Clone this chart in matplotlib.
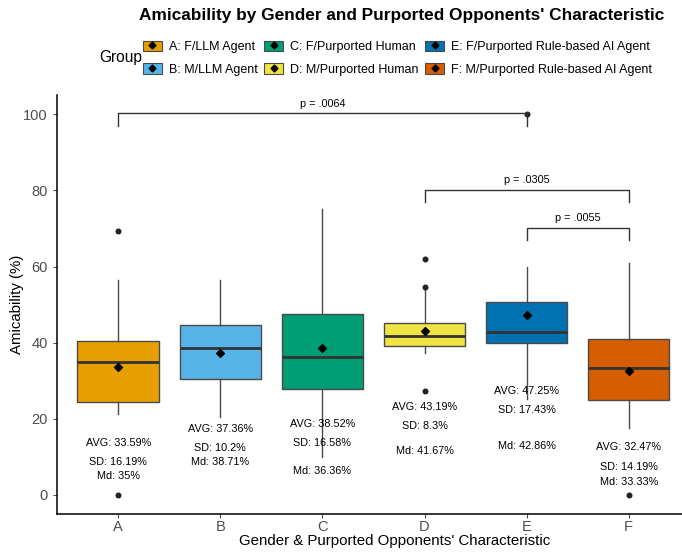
import matplotlib
matplotlib.use('agg')
import matplotlib.pyplot as plt
from matplotlib.patches import Patch
from matplotlib.lines import Line2D
from matplotlib.legend_handler import HandlerTuple

plt.rcParams['font.family'] = ['Liberation Sans', 'DejaVu Sans']

groups = ['A', 'B', 'C', 'D', 'E', 'F']
labels = ['A: F/LLM Agent', 'B: M/LLM Agent', 'C: F/Purported Human',
          'D: M/Purported Human', 'E: F/Purported Rule-based AI Agent',
          'F: M/Purported Rule-based AI Agent']
colors = ['#E69F00', '#56B4E9', '#009E73', '#F0E442', '#0072B2', '#D55E00']

# box stats
q1 = [24.4, 30.4, 27.8, 39.1, 40.0, 25.0]
med = [35.0, 38.71, 36.36, 41.67, 42.86, 33.33]
q3 = [40.5, 44.7, 47.4, 45.2, 50.8, 40.9]
wlo = [21.3, 20.6, 10.0, 37.2, 25.2, 17.7]
whi = [56.4, 56.4, 75.0, 53.8, 60.0, 61.0]
means = [33.59, 37.36, 38.52, 43.19, 47.25, 32.47]
sds = [16.19, 10.2, 16.58, 8.3, 17.43, 14.19]
outliers = [[69.3, 0.0], [], [], [62.0, 54.6, 27.3], [100.0], [0.0]]

# significance brackets: (group i, group j, bracket height, label)
brackets = [(0, 4, 100.2, 'p = .0064'),
            (3, 5, 80.2, 'p = .0305'),
            (4, 5, 70.2, 'p = .0055')]

fig = plt.figure(figsize=(6.82, 5.54), dpi=100)
ax = fig.add_axes([0.0836, 0.0722, 0.928, 0.756])

stats = []
for i in range(len(groups)):
    stats.append(dict(med=med[i], q1=q1[i], q3=q3[i], whislo=wlo[i],
                      whishi=whi[i], fliers=outliers[i], label=groups[i]))

pos = list(range(1, len(groups) + 1))
bp = ax.bxp(stats, positions=pos, widths=0.8, patch_artist=True,
            showcaps=False,
            boxprops=dict(edgecolor='#4a4a4a', linewidth=1.0),
            whiskerprops=dict(color='#4a4a4a', linewidth=1.0),
            medianprops=dict(color='#333333', linewidth=2.0),
            flierprops=dict(marker='o', markersize=3.3, markerfacecolor='#222222',
                            markeredgecolor='#222222'))
for patch, c in zip(bp['boxes'], colors):
    patch.set_facecolor(c)
    patch.set_zorder(2)

ax.scatter(pos, means, marker='D', s=16, color='black', zorder=4)

fs = 7.8
for i, p in enumerate(pos):
    ax.text(p, means[i] - 20, 'AVG: %g%%' % means[i], ha='center', va='center', fontsize=fs)
    ax.text(p, means[i] - 25, 'SD: %g%%' % sds[i], ha='center', va='center', fontsize=fs)
    ax.text(p, med[i] - 30, 'Md: %g%%' % med[i], ha='center', va='center', fontsize=fs)

for i, j, h, txt in brackets:
    x1, x2 = pos[i], pos[j]
    ax.plot([x1, x1, x2, x2], [h - 3.2, h, h, h - 3.2], color='#333333', lw=1.0, zorder=3)
    ax.text((x1 + x2) / 2, h + 1.2, txt, ha='center', va='bottom', fontsize=fs)

ax.set_xlim(0.4, 6.6)
ax.set_ylim(-5, 105)
ax.set_yticks([0, 20, 40, 60, 80, 100])
ax.set_xticks(pos)
ax.set_xticklabels(groups)
ax.tick_params(colors='#4d4d4d', labelsize=10.5, length=3)
ax.tick_params(axis='x', pad=1)
for s in ['top', 'right']:
    ax.spines[s].set_visible(False)
for s in ['left', 'bottom']:
    ax.spines[s].set_linewidth(1.1)
    ax.spines[s].set_color('black')
ax.set_ylabel('Amicability (%)', fontsize=10.8)
ax.yaxis.set_label_coords(-0.052, 0.5)
ax.set_xlabel("Gender & Purported Opponents' Characteristic", fontsize=10.8)
ax.xaxis.set_label_coords(0.534, -0.048)

fig.text(0.589, 0.972, "Amicability by Gender and Purported Opponents' Characteristic",
         ha='center', va='center', fontsize=12.4, fontweight='bold')

handles = []
for c in colors:
    box = Patch(facecolor=c, edgecolor='#4a4a4a', linewidth=0.8)
    dot = Line2D([], [], marker='D', color='black', markersize=3.5, linestyle='none')
    handles.append((box, dot))
leg = fig.legend(handles, labels, ncol=3, loc='center left', bbox_to_anchor=(0.2097, 0.895),
                 frameon=False, fontsize=9.0, handler_map={tuple: HandlerTuple(ndivide=1)},
                 handlelength=1.5, handleheight=0.9, handletextpad=0.55, columnspacing=0.55,
                 labelspacing=0.8, borderaxespad=0, borderpad=0)
fig.text(0.177, 0.896, 'Group', ha='center', va='center', fontsize=11.2)

fig.savefig('out.png', dpi=100)
